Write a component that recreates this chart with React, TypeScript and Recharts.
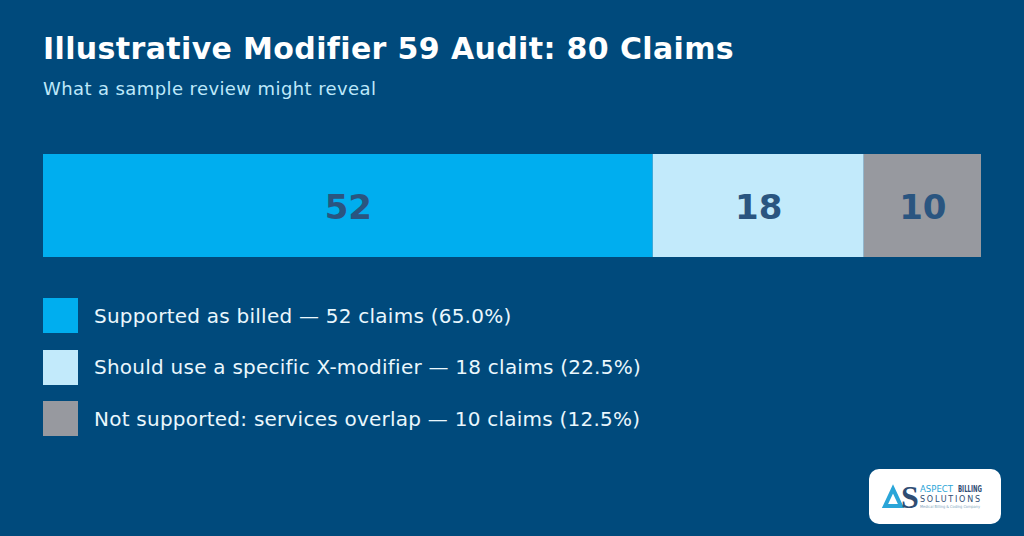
import { BarChart, Bar, XAxis, YAxis, LabelList } from "recharts";

const categories = ["Claims"];
const seriesNames = ["Supported as billed", "Should use a specific X-modifier", "Not supported: services overlap"];
const seriesValues = [52, 18, 10];
const seriesPercents = ["65.0%", "22.5%", "12.5%"];
const seriesColors = ["#00AEEF", "#C2EAFB", "#97999F"];
const totalClaims = 80;

const FONT = "'DejaVu Sans', sans-serif";

const chartData = categories.map((name) => {
  const row: Record<string, string | number> = { name };
  seriesNames.forEach((s, i) => {
    row[s] = seriesValues[i];
  });
  return row;
});

// legend sits outside the chart, otherwise recharts takes its height out of the plot
function ClaimsLegend() {
  return (
    <div style={{ position: "absolute", left: 43, top: 298 }}>
      {seriesNames.map((s, i) => (
        <div key={s} style={{ display: "flex", alignItems: "center", height: 35, marginBottom: 16.5 }}>
          <div style={{ width: 35, height: 35, background: seriesColors[i], marginRight: 16 }} />
          <span style={{ color: "#EAF7FD", fontSize: 20, letterSpacing: 0.24, lineHeight: "34px", fontFamily: FONT, whiteSpace: "nowrap" }}>
            {`${s} — ${seriesValues[i]} claims (${seriesPercents[i]})`}
          </span>
        </div>
      ))}
    </div>
  );
}

function Logo() {
  return (
    <div
      style={{
        position: "absolute",
        left: 869,
        top: 469,
        width: 132,
        height: 55,
        background: "#FFFFFF",
        borderRadius: 10,
      }}
    >
      <svg width={132} height={55} style={{ display: "block" }} fontFamily={FONT}>
        <polygon points="16,37 24,20 32,37" fill="none" stroke="#2AA5D8" strokeWidth={4} />
        <text x={32} y={39} fontSize={32} fontWeight={700} fill="#2F4D73" fontFamily="'Liberation Serif', serif">
          S
        </text>
        <text x={51} y={23} fontSize={9} fill="#2AA5D8" textLength={33} lengthAdjust="spacingAndGlyphs">
          ASPECT
        </text>
        <text x={89} y={23} fontSize={9} fontWeight={700} fill="#2F4D73" textLength={24} lengthAdjust="spacingAndGlyphs">
          BILLING
        </text>
        <text x={51} y={33} fontSize={8} fill="#2F4D73" textLength={60}>
          SOLUTIONS
        </text>
        <text x={51} y={39} fontSize={4} fill="#7FA6BE" textLength={60} lengthAdjust="spacingAndGlyphs">
          Medical Billing & Coding Company
        </text>
      </svg>
    </div>
  );
}

export default function App() {
  return (
    <div style={{ position: "fixed", left: 0, top: 0, width: 1024, height: 536, background: "#004A7C", overflow: "hidden" }}>
      <div
        style={{
          position: "absolute",
          left: 43,
          top: 31,
          color: "#FFFFFF",
          fontFamily: FONT,
          fontWeight: 700,
          fontSize: 30,
          letterSpacing: 0.37,
          lineHeight: "36px",
          whiteSpace: "nowrap",
        }}
      >
        {`Illustrative Modifier 59 Audit: ${totalClaims} Claims`}
      </div>
      <div
        style={{
          position: "absolute",
          left: 43,
          top: 77,
          color: "#BDE8FA",
          fontFamily: FONT,
          fontSize: 18,
          letterSpacing: 0.4,
          lineHeight: "24px",
          whiteSpace: "nowrap",
        }}
      >
        What a sample review might reveal
      </div>
      <BarChart
        width={1024}
        height={536}
        data={chartData}
        layout="vertical"
        margin={{ top: 154, right: 43, bottom: 279, left: 43 }}
        barCategoryGap={0}
        style={{ position: "absolute", left: 0, top: 0 }}
      >
        <XAxis type="number" hide domain={[0, totalClaims]} />
        <YAxis type="category" dataKey="name" hide />
        {seriesNames.map((s, i) => (
          <Bar key={s} dataKey={s} stackId="claims" fill={seriesColors[i]} isAnimationActive={false}>
            <LabelList
              dataKey={s}
              position="center"
              fill="#2A5580"
              dx={0.5}
              dy={1}
              style={{ fontSize: 34, fontWeight: 700, fontFamily: FONT }}
            />
          </Bar>
        ))}
      </BarChart>
      <ClaimsLegend />
      <Logo />
    </div>
  );
}
